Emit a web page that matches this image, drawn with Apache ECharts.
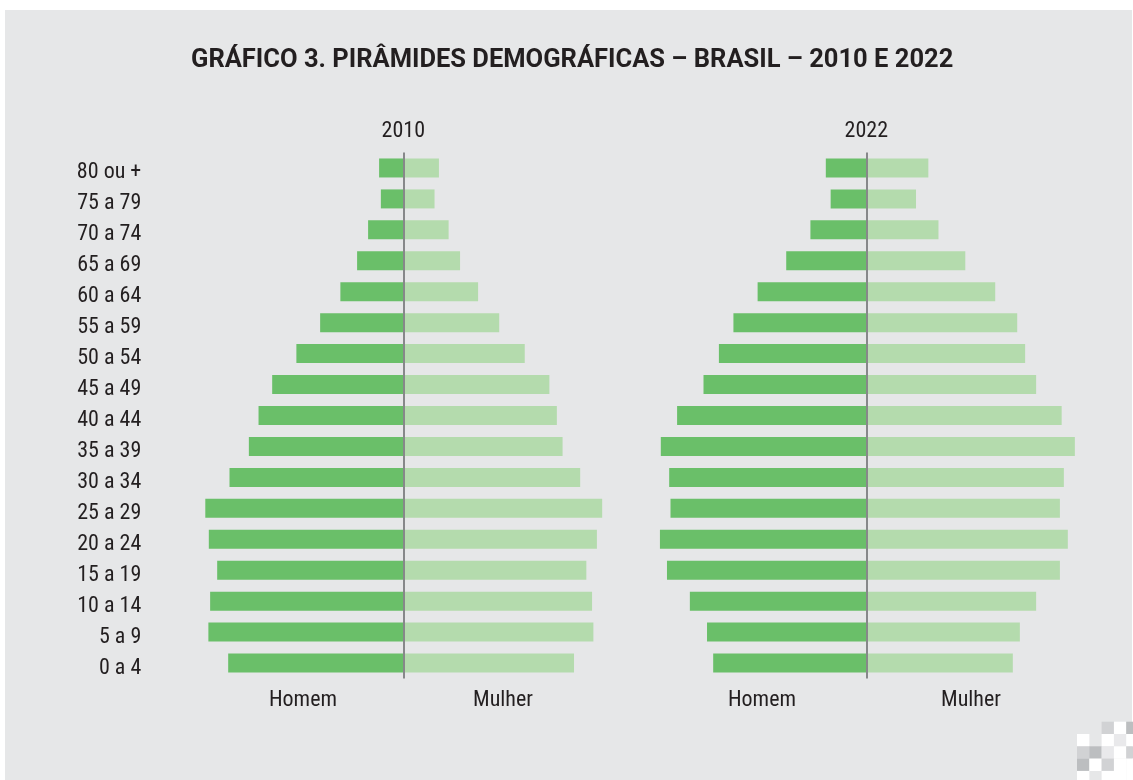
<html>
<head>
<meta charset="utf-8">
<script src="https://cdn.jsdelivr.net/npm/echarts@6/dist/echarts.min.js"></script>
<style>
	body { margin: 0; background: #ffffff; }
	#chart-main { width: 1133px; height: 780px; }
</style>
</head>
<body>
<div id="chart-main"></div>

<script type="text/javascript">
	// faixas etárias, de cima para baixo
	var faixas = ['80 ou +', '75 a 79', '70 a 74', '65 a 69', '60 a 64', '55 a 59', '50 a 54', '45 a 49',
		'40 a 44', '35 a 39', '30 a 34', '25 a 29', '20 a 24', '15 a 19', '10 a 14', '5 a 9', '0 a 4'];

	// % da população (estimado do gráfico)
	var homem2010 = [0.55, 0.51, 0.80, 1.05, 1.43, 1.89, 2.43, 2.98, 3.29, 3.51, 3.95, 4.50, 4.42, 4.23, 4.39, 4.43, 3.98];
	var mulher2010 = [0.81, 0.71, 1.03, 1.29, 1.70, 2.18, 2.76, 3.32, 3.49, 3.62, 4.02, 4.52, 4.40, 4.16, 4.29, 4.32, 3.88];
	var homem2022 = [0.92, 0.81, 1.27, 1.82, 2.47, 3.02, 3.35, 3.70, 4.30, 4.67, 4.48, 4.45, 4.69, 4.53, 4.01, 3.62, 3.48];
	var mulher2022 = [1.41, 1.13, 1.64, 2.25, 2.93, 3.43, 3.61, 3.86, 4.44, 4.74, 4.49, 4.40, 4.58, 4.40, 3.86, 3.49, 3.33];

	var anos = ['2010', '2022'];
	var lados = ['Homem', 'Mulher'];

	var fonteTexto = "'Liberation Sans Narrow', 'Roboto Condensed', 'DejaVu Sans Condensed', sans-serif";
	var corHomem = '#6abf69';
	var corMulher = '#b4dbad';
	var corTexto = '#231f20';

	var myChart = echarts.init(document.getElementById('chart-main'));

	function serieBarra(nome, valores, idx, cor, comLinha) {
		var s = {
			name: nome,
			type: 'bar',
			xAxisIndex: idx,
			yAxisIndex: idx,
			data: valores,
			barWidth: 19,
			barGap: '-100%',
			itemStyle: { color: cor },
			silent: true
		};
		if (comLinha) {
			s.markLine = {
				silent: true,
				symbol: 'none',
				label: { show: false },
				lineStyle: { color: '#87888a', width: 2, type: 'solid' },
				data: [{ xAxis: 0 }]
			};
		}
		return s;
	}

	// quadradinhos decorativos no canto
	var xadrez = [
		['', '', '#d1d2d4', '#ffffff', '#bcbec0'],
		['#ffffff', '', '#ffffff', '#e9e9eb', '#ffffff'],
		['#d1d2d4', '#bcbec0', '#e9e9eb', '#ffffff', '#d1d2d4'],
		['#bcbec0', '#ffffff', '#d1d2d4', '#ffffff', '#ffffff'],
		['#ffffff', '', '#ffffff', '#ffffff', '#ffffff']
	];
	var graficos = [
		{ type: 'rect', left: 5, top: 10, z: -10, shape: { width: 1127, height: 770 }, style: { fill: '#e6e7e8' } }
	];
	xadrez.forEach(function (linha, r) {
		linha.forEach(function (c, k) {
			if (c) {
				graficos.push({ type: 'rect', z: -5, shape: { x: 1077 + k * 12.3, y: 721.7 + r * 12.3, width: 12.4, height: 12.4 }, style: { fill: c } });
			}
		});
	});
	var centros = [403.3, 866.3];
	anos.forEach(function (a, i) {
		graficos.push({ type: 'text', x: centros[i], y: 131, style: { text: a, fill: corTexto, font: '22px ' + fonteTexto, align: 'center', verticalAlign: 'middle' } });
	});
	var posLados = [[303, 503], [762, 971]];
	posLados.forEach(function (p, i) {
		lados.forEach(function (l, j) {
			graficos.push({ type: 'text', x: p[j], y: 700, style: { text: l, fill: corTexto, font: '22px ' + fonteTexto, align: 'center', verticalAlign: 'middle' } });
		});
	});

	var option = {
		animation: false,
		backgroundColor: '#ffffff',
		title: {
			text: 'GRÁFICO 3. PIRÂMIDES DEMOGRÁFICAS – BRASIL – 2010 E 2022',
			left: 186,
			top: 43,
			textStyle: { fontFamily: "Roboto, 'Open Sans', sans-serif", fontWeight: 'bold', fontSize: 25.5, color: corTexto }
		},
		graphic: graficos,
		grid: [
			{ left: 183.3, width: 440, top: 152.5, height: 526 },
			{ left: 646.3, width: 440, top: 152.5, height: 526 }
		],
		xAxis: [
			{ gridIndex: 0, type: 'value', min: -5, max: 5, show: false },
			{ gridIndex: 1, type: 'value', min: -5, max: 5, show: false }
		],
		yAxis: [
			{
				gridIndex: 0, type: 'category', data: faixas, inverse: true,
				axisLine: { show: false }, axisTick: { show: false },
				axisLabel: { margin: 42, color: corTexto, fontSize: 22, fontFamily: fonteTexto, verticalAlign: 'top', lineHeight: 10 }
			},
			{
				gridIndex: 1, type: 'category', data: faixas, inverse: true,
				axisLine: { show: false }, axisTick: { show: false }, axisLabel: { show: false }
			}
		],
		series: [
			serieBarra('Homem 2010', homem2010.map(function (v) { return -v; }), 0, corHomem, false),
			serieBarra('Mulher 2010', mulher2010, 0, corMulher, true),
			serieBarra('Homem 2022', homem2022.map(function (v) { return -v; }), 1, corHomem, false),
			serieBarra('Mulher 2022', mulher2022, 1, corMulher, true)
		]
	};

	myChart.setOption(option);
</script>
</body>
</html>
